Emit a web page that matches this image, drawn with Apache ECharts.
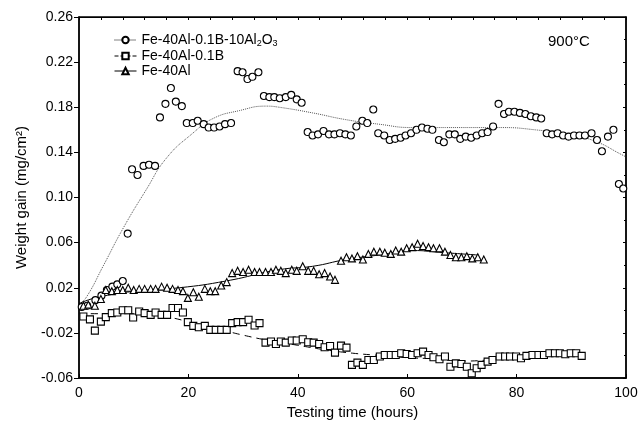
<!DOCTYPE html>
<html><head><meta charset="utf-8">
<script src="https://cdn.jsdelivr.net/npm/echarts@6/dist/echarts.min.js"></script>
<style>html,body{margin:0;padding:0;background:#fff}#c{width:641px;height:428px}</style>
</head><body><div id="c"></div>
<script>
// ---- data ----
const seriesNames = ['Fe-40Al-0.1B-10Al2O3', 'Fe-40Al-0.1B', 'Fe-40Al'];
const annotation = '900°C';
const xAxisTitle = 'Testing time (hours)';
const yAxisTitle = 'Weight gain (mg/cm²)';

const aluminaHours = [0.5,1.5,3.0,4.1,5.1,6.1,7.0,8.0,8.9,9.7,10.7,11.8,12.8,13.9,14.8,15.8,16.8,17.7,18.8,19.7,20.8,21.7,22.8,23.7,24.7,25.7,26.7,27.8,29.0,29.9,30.8,31.7,32.8,33.8,34.8,35.7,36.7,37.8,38.8,39.8,40.7,41.8,42.7,43.7,44.7,45.7,46.7,47.7,48.7,49.7,50.7,51.8,52.7,53.8,54.7,55.8,56.8,57.8,58.8,59.7,60.7,61.7,62.7,63.7,64.6,65.8,66.7,67.7,68.7,69.7,70.7,71.7,72.7,73.7,74.7,75.7,76.7,77.7,78.6,79.6,80.6,81.6,82.6,83.6,84.5,85.5,86.5,87.5,88.5,89.5,90.5,91.5,92.5,93.7,94.7,95.6,96.7,97.7,98.7,99.5];
const aluminaGain = [0.003,0.004,0.009,0.013,0.018,0.021,0.023,0.026,0.068,0.125,0.120,0.128,0.129,0.128,0.171,0.183,0.197,0.185,0.181,0.166,0.166,0.168,0.165,0.162,0.162,0.163,0.165,0.166,0.212,0.211,0.205,0.207,0.211,0.190,0.189,0.189,0.188,0.189,0.191,0.187,0.184,0.158,0.155,0.156,0.159,0.156,0.156,0.157,0.156,0.155,0.163,0.168,0.166,0.178,0.157,0.155,0.151,0.152,0.153,0.155,0.157,0.160,0.162,0.161,0.160,0.151,0.149,0.156,0.156,0.152,0.154,0.153,0.155,0.157,0.158,0.163,0.183,0.174,0.176,0.176,0.175,0.174,0.172,0.171,0.170,0.157,0.156,0.157,0.155,0.154,0.155,0.155,0.155,0.157,0.151,0.141,0.154,0.160,0.112,0.108];

const boronHours = [0.8,2.0,2.9,4.0,4.9,6.0,7.0,8.0,9.0,9.9,11.0,12.0,13.1,14.0,15.1,16.1,17.1,18.1,19.0,19.9,20.9,21.9,23.0,24.0,25.0,26.0,27.0,28.0,29.0,30.0,31.0,32.1,33.0,34.1,35.1,36.0,36.9,37.8,38.9,39.8,40.9,41.9,42.9,43.9,44.9,45.9,46.8,47.9,48.9,49.9,50.9,51.9,52.9,53.9,55.0,55.9,57.0,57.9,58.9,59.9,60.9,61.9,62.9,63.9,64.8,65.9,66.9,67.9,68.9,69.9,70.9,71.8,72.7,73.6,74.7,75.6,76.9,77.9,78.8,79.9,80.8,81.8,82.9,84.0,85.0,86.0,87.0,87.9,88.9,89.9,90.9,91.9];
const boronGain = [-0.0055,-0.008,-0.018,-0.010,-0.006,-0.0025,-0.002,0.000,0.000,-0.0064,-0.001,-0.0025,-0.004,-0.002,-0.004,-0.004,0.002,0.002,-0.002,-0.0105,-0.0138,-0.015,-0.0138,-0.0173,-0.0173,-0.0173,-0.0173,-0.0114,-0.0105,-0.0105,-0.0084,-0.0135,-0.0114,-0.0286,-0.0277,-0.0298,-0.0277,-0.0286,-0.0268,-0.0268,-0.0256,-0.0283,-0.0286,-0.0298,-0.0327,-0.0316,-0.0375,-0.0313,-0.0331,-0.0484,-0.0464,-0.0484,-0.044,-0.044,-0.041,-0.0396,-0.0396,-0.0396,-0.038,-0.0387,-0.0396,-0.038,-0.0366,-0.0396,-0.0416,-0.0434,-0.041,-0.050,-0.047,-0.0476,-0.050,-0.0558,-0.0514,-0.0484,-0.0455,-0.044,-0.041,-0.041,-0.041,-0.041,-0.0425,-0.0404,-0.0396,-0.0396,-0.0396,-0.038,-0.038,-0.038,-0.039,-0.038,-0.038,-0.0404];

const baseHours = [0.8,1.7,2.9,4.0,4.9,6.0,7.0,8.0,9.0,10.0,11.0,12.0,13.1,14.0,15.1,16.1,17.1,18.1,19.0,19.9,20.9,21.9,23.0,24.0,24.9,26.0,27.0,28.0,29.0,30.0,31.0,32.1,33.0,34.1,35.1,36.0,36.9,37.8,38.9,39.8,40.9,41.9,42.9,43.9,44.9,45.9,46.8,47.9,48.9,49.9,50.9,51.9,52.9,53.9,55.0,55.9,57.0,57.9,58.9,59.9,60.9,61.9,62.9,63.9,64.8,65.9,66.9,67.9,68.9,69.9,70.9,71.9,72.9,74.0];
const baseGain = [0.004,0.005,0.004,0.010,0.018,0.017,0.018,0.018,0.020,0.018,0.019,0.019,0.019,0.019,0.021,0.020,0.019,0.018,0.017,0.011,0.016,0.012,0.019,0.017,0.017,0.022,0.025,0.033,0.035,0.034,0.036,0.034,0.034,0.034,0.034,0.036,0.035,0.033,0.036,0.035,0.039,0.035,0.035,0.032,0.033,0.030,0.027,0.044,0.047,0.046,0.048,0.045,0.050,0.052,0.052,0.051,0.050,0.053,0.052,0.055,0.056,0.059,0.057,0.056,0.055,0.055,0.052,0.049,0.047,0.047,0.048,0.046,0.047,0.045];

// fitted curves
const aluminaFitHours = [0,1.4,4.5,8.1,12.3,16,20.8,24.5,29.3,34.2,36.6,42.7,48.8,54.8,60.9,67,73,77.3,83.4,89.4,94.3,99.2,100];
const aluminaFitGain  = [0.005,0.012,0.040,0.073,0.107,0.135,0.157,0.170,0.177,0.181,0.180,0.175,0.169,0.165,0.162,0.162,0.162,0.162,0.160,0.156,0.150,0.138,0.136];
const boronFitHours = [0,5,10,15,20,25,30,35,40,45,50,55,60,65,70,75,80,85,90,92];
const boronFitGain  = [-0.003,-0.003,-0.003,-0.005,-0.010,-0.016,-0.022,-0.027,-0.031,-0.035,-0.038,-0.040,-0.042,-0.043,-0.045,-0.044,-0.042,-0.041,-0.040,-0.040];
const baseFitHours = [0,3.8,12.3,18.4,26.9,36.6,42.7,48.8,54.8,60.9,67,73];
const baseFitGain  = [0.006,0.012,0.018,0.020,0.026,0.036,0.039,0.045,0.049,0.053,0.051,0.049];

const zip = (a, b) => a.map((v, i) => [v, b[i]]);
const FONT = '"Liberation Sans", Arial, sans-serif';

const chart = echarts.init(document.getElementById('c'), null, {renderer: 'canvas'});
const markerStyle = {color: '#fff', borderColor: '#000', borderWidth: 1.1};
const pointSeries = (name, symbol, hours, gain) => ({
  name, type: 'line', data: zip(hours, gain), symbol, symbolSize: 7,
  showSymbol: true, itemStyle: markerStyle,
  lineStyle: {opacity: 0, width: 0}, z: 3, animation: false
});
const fitSeries = (hours, gain, type, color, width) => ({
  type: 'line', data: zip(hours, gain), smooth: 0.5, showSymbol: false, symbol: 'none',
  lineStyle: {type, color, width}, z: 2, silent: true, animation: false
});

chart.setOption({
  animation: false,
  backgroundColor: '#fff',
  grid: {left: 79, right: 15, top: 17, bottom: 50, containLabel: false,
    show: true, borderColor: '#000', borderWidth: 1.3, backgroundColor: 'transparent'},
  xAxis: [{
    type: 'value', min: 0, max: 100, interval: 20, position: 'bottom',
    name: xAxisTitle, nameLocation: 'middle', nameGap: 26,
    nameTextStyle: {fontFamily: FONT, fontSize: 15, color: '#000'},
    axisLine: {show: true, onZero: false, lineStyle: {color: '#000', width: 1.5}},
    axisTick: {show: true, inside: true, length: 4, lineStyle: {color: '#000'}},
    axisLabel: {fontFamily: FONT, fontSize: 14, color: '#000', margin: 8},
    splitLine: {show: false}
  }, {
    type: 'value', min: 0, max: 100, interval: 4, position: 'top',
    axisLine: {show: true, onZero: false, lineStyle: {color: '#000', width: 1.2}},
    axisTick: {show: true, inside: true, length: 3, lineStyle: {color: '#000'}},
    axisLabel: {show: false}, splitLine: {show: false}
  }],
  yAxis: [{
    type: 'value', min: -0.06, max: 0.26, interval: 0.04, position: 'left',
    name: yAxisTitle, nameLocation: 'middle', nameGap: 50, nameRotate: 90,
    nameTextStyle: {fontFamily: FONT, fontSize: 15, color: '#000'},
    axisLine: {show: true, onZero: false, lineStyle: {color: '#000', width: 1.5}},
    axisTick: {show: true, inside: false, length: 5, lineStyle: {color: '#000'}},
    axisLabel: {fontFamily: FONT, fontSize: 14, color: '#000', margin: 6,
      formatter: v => v.toFixed(2)},
    splitLine: {show: false}
  }, {
    type: 'value', min: -0.06, max: 0.26, interval: 0.04, position: 'right',
    axisLine: {show: true, onZero: false, lineStyle: {color: '#000', width: 1.5}},
    axisTick: {show: true, inside: true, length: 3, lineStyle: {color: '#000'}},
    minorTick: {show: true, splitNumber: 2, length: 2, lineStyle: {color: '#000'}},
    axisLabel: {show: false}, splitLine: {show: false}
  }],
  legend: {
    orient: 'vertical', left: 109, top: 28, itemWidth: 22, itemHeight: 8, itemGap: 1,
    data: seriesNames.map((n, i) => ({
      name: n,
      lineStyle: {opacity: 1, width: 1, color: '#000', type: ['dotted', 'dashed', 'solid'][i]}
    })),
    textStyle: {fontFamily: FONT, fontSize: 14, color: '#000',
      rich: {
        n: {fontFamily: FONT, fontSize: 14, color: '#000', lineHeight: 16},
        s: {fontFamily: FONT, fontSize: 9, color: '#000', lineHeight: 16, verticalAlign: 'bottom', padding: [4, 0, 0, 0]}
      }},
    formatter: name => name === seriesNames[0]
      ? '{n|Fe-40Al-0.1B-10Al}{s|2}{n|O}{s|3}'
      : '{n|' + name + '}'
  },
  graphic: [{
    type: 'text', left: 548, top: 34,
    style: {text: annotation, fontFamily: FONT, fontSize: 15, fill: '#000'}
  }],
  series: [
    pointSeries(seriesNames[0], 'circle', aluminaHours, aluminaGain),
    pointSeries(seriesNames[1], 'rect', boronHours, boronGain),
    pointSeries(seriesNames[2], 'triangle', baseHours, baseGain),
    fitSeries(aluminaFitHours, aluminaFitGain, 'dotted', '#555', 1),
    fitSeries(boronFitHours, boronFitGain, [7, 5], '#000', 1),
    fitSeries(baseFitHours, baseFitGain, 'solid', '#000', 1)
  ]
});
</script></body></html>
